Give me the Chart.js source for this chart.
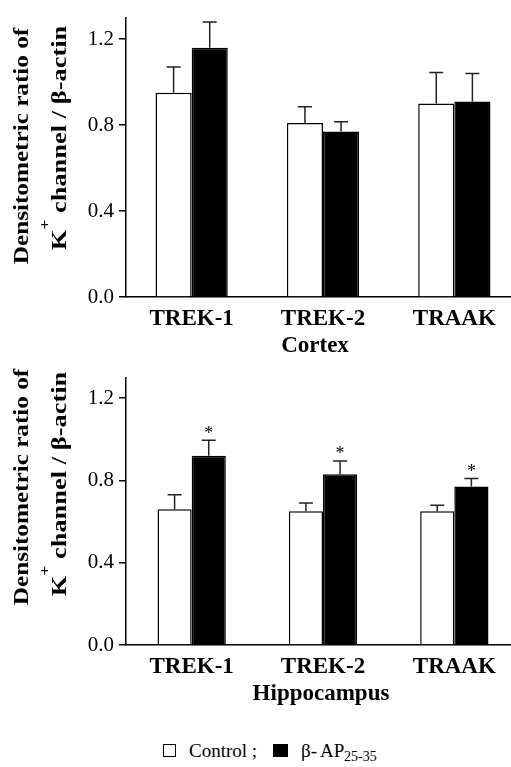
<!DOCTYPE html>
<html>
<head>
<meta charset="utf-8">
<script src="https://cdn.jsdelivr.net/npm/chart.js@4.4.0/dist/chart.umd.min.js"></script>
<style>
  html, body { margin: 0; padding: 0; background: #fff; overflow: hidden; }
  body { width: 511px; height: 767px; position: relative; color: #000; }
  .panel { position: absolute; left: 0; width: 520px; height: 360px; }
  .lg { position: absolute; white-space: nowrap; font-family: 'Liberation Serif', serif; font-size: 19px; }
  .box { position: absolute; width: 13px; height: 13px; box-sizing: border-box; border: 1px solid #000; }
</style>
</head>
<body>
<div class="panel" style="top:0"><canvas id="cortex" width="520" height="360"></canvas></div>
<div class="panel" style="top:360px"><canvas id="hippo" width="520" height="360"></canvas></div>
<div class="box" style="left:163px;top:744px;background:#fff"></div>
<div class="lg" style="left:189px;top:740px">Control ;</div>
<div class="box" style="left:273px;top:744px;width:15px;background:#000"></div>
<div class="lg" style="left:301px;top:740px">β-</div>
<div class="lg" style="left:320px;top:740px">AP</div>
<div class="lg" style="left:344px;top:749px;font-size:14px">25-35</div>
<script>
// ---- data ----
const categories = ['TREK-1', 'TREK-2', 'TRAAK'];
const yTicks = [0, 0.4, 0.8, 1.2];

const cortexControl = [0.95, 0.81, 0.90];
const cortexControlSem = [0.12, 0.075, 0.145];
const cortexAP = [1.16, 0.77, 0.91];
const cortexAPSem = [0.12, 0.045, 0.13];

const hippoControl = [0.66, 0.65, 0.65];
const hippoControlSem = [0.07, 0.04, 0.03];
const hippoAP = [0.92, 0.83, 0.77];
const hippoAPSem = [0.075, 0.065, 0.04];
const hippoAPSig = [true, true, true];

const SERIF = '"Liberation Serif", serif';

// error bars (upward only) + asterisks
const errorBarPlugin = {
  id: 'errorBars',
  afterDatasetsDraw(chart) {
    const { ctx } = chart;
    const y = chart.scales.y;
    chart.data.datasets.forEach((ds, i) => {
      const meta = chart.getDatasetMeta(i);
      meta.data.forEach((bar, j) => {
        const top = y.getPixelForValue(ds.data[j] + ds.errors[j]);
        ctx.save();
        ctx.strokeStyle = '#222';
        ctx.lineWidth = 1.5;
        ctx.beginPath();
        ctx.moveTo(bar.x, bar.y);
        ctx.lineTo(bar.x, top);
        ctx.moveTo(bar.x - 7, top);
        ctx.lineTo(bar.x + 7, top);
        ctx.stroke();
        if (ds.sig && ds.sig[j]) {
          ctx.fillStyle = '#000';
          ctx.font = '18px ' + SERIF;
          ctx.textAlign = 'center';
          const m = ctx.measureText('*');
          const center = top - 11;
          ctx.fillText('*', bar.x, center - (m.actualBoundingBoxDescent - m.actualBoundingBoxAscent) / 2);
        }
        ctx.restore();
      });
    });
  }
};

// rotated y title with superscript, and x caption under the labels
function drawRotated(ctx, x, yc, pieces, stretch) {
  ctx.save();
  ctx.translate(x, yc);
  ctx.rotate(-Math.PI / 2);
  ctx.scale(stretch, 1);
  ctx.fillStyle = '#000';
  ctx.textAlign = 'left';
  ctx.textBaseline = 'alphabetic';
  let total = 0;
  const widths = pieces.map(p => { ctx.font = p.font; const w = ctx.measureText(p.text).width; total += w; return w; });
  let cx = -total / 2;
  pieces.forEach((p, k) => {
    ctx.font = p.font;
    ctx.fillText(p.text, cx, -(p.rise || 0));
    cx += widths[k];
  });
  ctx.restore();
}

const titlePlugin = {
  id: 'titles',
  afterDraw(chart, args, opts) {
    const { ctx } = chart;
    const bold = 'bold 21px ' + SERIF;
    drawRotated(ctx, 28, opts.line1Y, [{ text: 'Densitometric ratio of', font: bold }], 1.2);
    drawRotated(ctx, 66, opts.line2Y, [
      { text: 'K', font: bold },
      { text: '+', font: 'bold 14px ' + SERIF, rise: 17 },
      { text: ' channel / β-actin', font: bold }
    ], 1.26);
    ctx.save();
    ctx.fillStyle = '#000';
    ctx.font = 'bold 23px ' + SERIF;
    ctx.textAlign = 'center';
    ctx.textBaseline = 'alphabetic';
    ctx.fillText(opts.caption, opts.captionX, opts.captionY);
    ctx.restore();
  }
};

function makeChart(id, control, controlSem, ap, apSem, apSig, o) {
  return new Chart(document.getElementById(id), {
    type: 'bar',
    data: {
      labels: categories,
      datasets: [
        { label: 'Control', data: control, errors: controlSem, backgroundColor: '#fff', borderColor: '#000', borderWidth: 1.5, borderSkipped: 'bottom' },
        { label: 'β- AP25-35', data: ap, errors: apSem, sig: apSig, backgroundColor: '#000', borderColor: '#000', borderWidth: 1.5, borderSkipped: 'bottom' }
      ]
    },
    options: {
      responsive: false,
      animation: false,
      layout: { padding: { top: o.padTop, left: 0, right: 0, bottom: 0 } },
      datasets: { bar: { categoryPercentage: o.catPct, barPercentage: 1.0 } },
      plugins: {
        legend: { display: false },
        tooltip: { enabled: false },
        titles: { line1Y: o.line1Y, line2Y: o.line2Y, caption: o.caption, captionX: o.captionX, captionY: o.captionY }
      },
      scales: {
        x: {
          grid: { display: false },
          border: { display: true, color: '#000', width: 1.5 },
          ticks: { color: '#000', padding: o.xPad, font: { family: SERIF, size: 23, weight: 'bold' }, maxRotation: 0 },
          afterFit(s) { s.height = o.xHeight; }
        },
        y: {
          min: 0,
          max: 1.3,
          afterBuildTicks(s) { s.ticks = yTicks.map(v => ({ value: v })); },
          grid: { drawOnChartArea: false, drawTicks: true, tickLength: 7, color: '#000', lineWidth: 1.5 },
          border: { display: true, color: '#000', width: 1.5 },
          ticks: { color: '#000', padding: 5, font: { family: SERIF, size: 21 }, callback: v => v.toFixed(1) },
          afterFit(s) { s.width = 126; }
        }
      }
    },
    plugins: [errorBarPlugin, titlePlugin]
  });
}

makeChart('cortex', cortexControl, cortexControlSem, cortexAP, cortexAPSem, null, {
  padTop: 13, xHeight: 63, catPct: 0.55, xPad: 0,
  line1Y: 146, line2Y: 138, caption: 'Cortex', captionX: 315, captionY: 352
});
makeChart('hippo', hippoControl, hippoControlSem, hippoAP, hippoAPSem, hippoAPSig, {
  padTop: 3, xHeight: 75, catPct: 0.52, xPad: 0,
  line1Y: 127, line2Y: 124, caption: 'Hippocampus', captionX: 321, captionY: 340
});
</script>
</body>
</html>
